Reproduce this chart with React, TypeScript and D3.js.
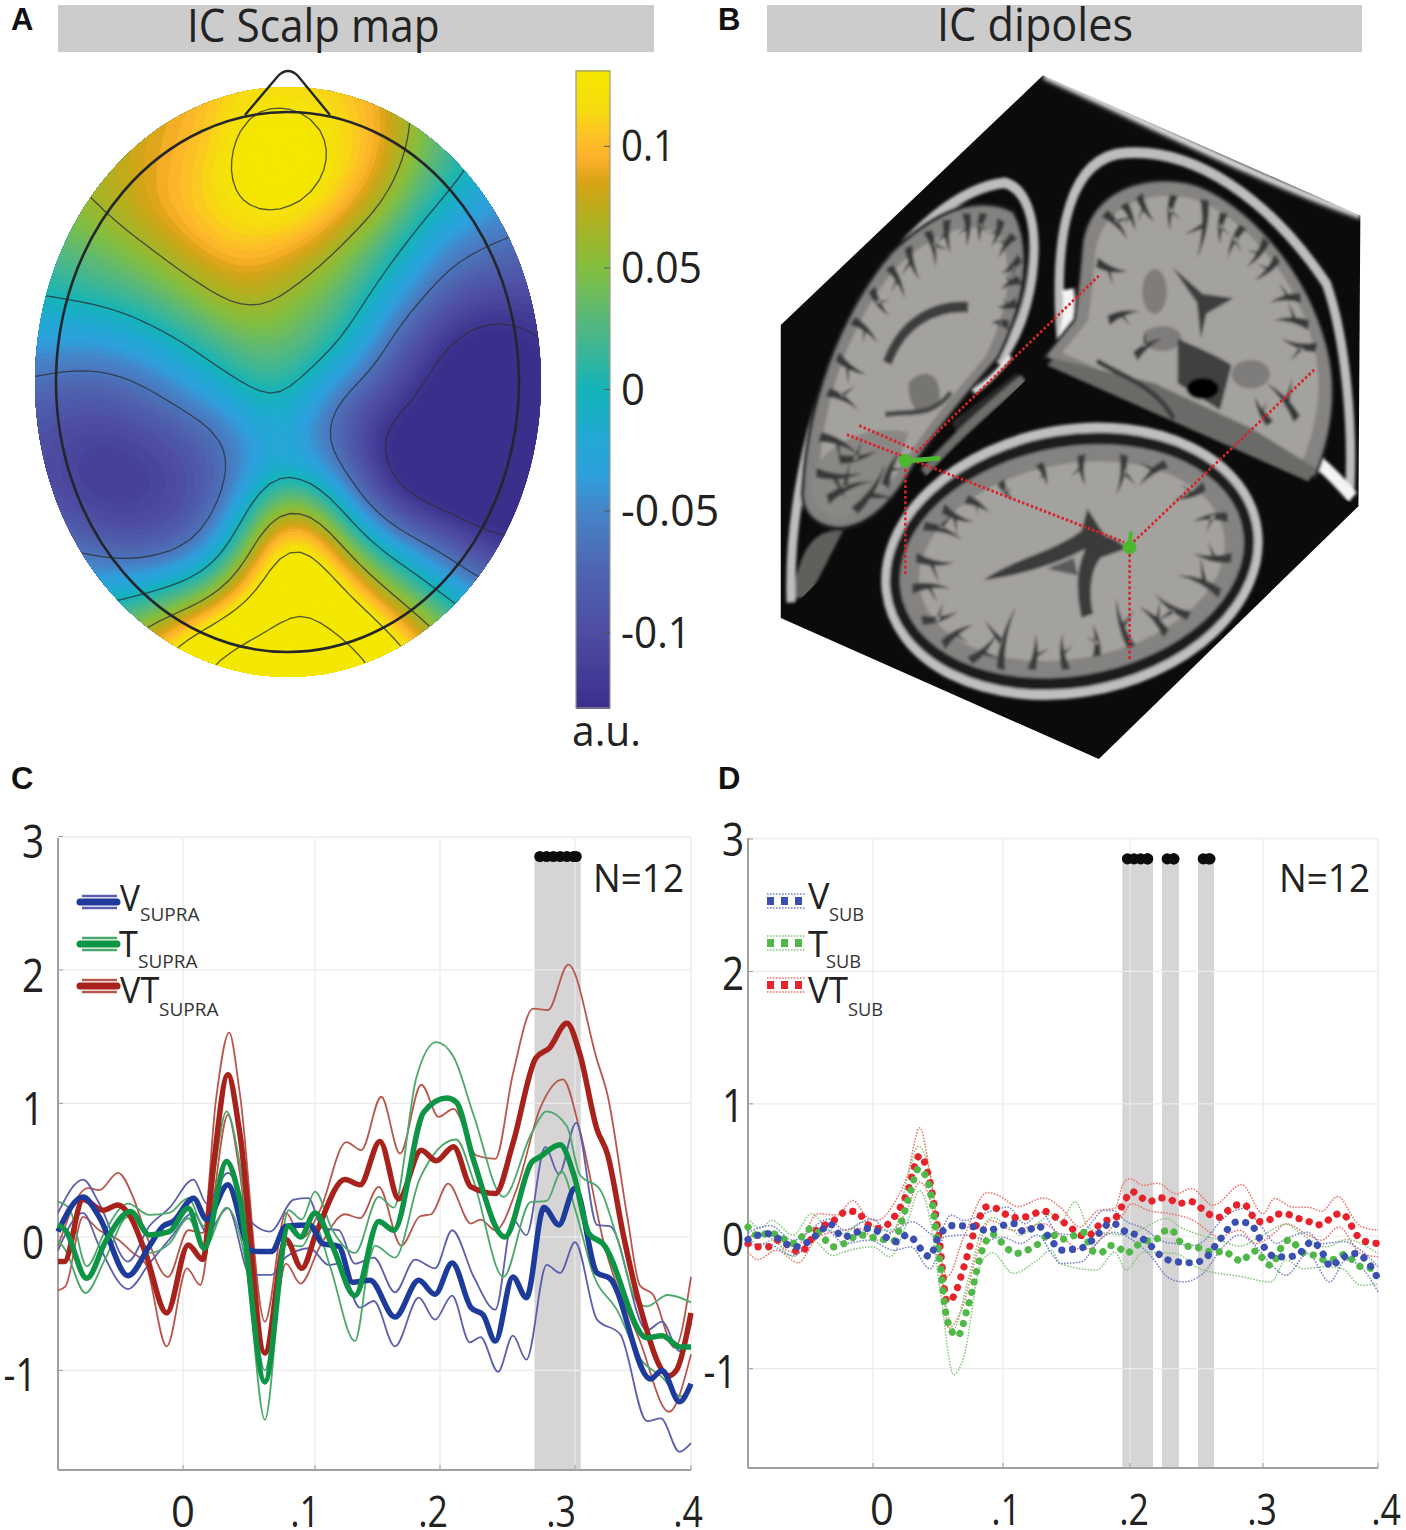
import * as d3 from 'd3';

type Pt = number[];

// --- panel A: scalp map values, in hundredths of a.u. on a regular grid
const scalpRows = [
  [7, 7, 7, 7.5, 8, 8.5, 10, 11, 11.3, 11.3, 11, 10.5, 9, 6, 4, 3, 2, 1, 0],
  [7, 7, 7, 7.5, 8, 8.5, 10, 11.5, 11.8, 11.8, 11.5, 11, 9, 6, 4, 2, 1, 0, -1],
  [7, 7, 7.5, 8, 8.5, 9, 10, 12, 14, 14.3, 12.6, 11.5, 10, 6.5, 3, 0.8, -1, -2, -3],
  [6, 6, 6.5, 7, 8, 9.5, 10.5, 12.8, 15, 15.5, 13.2, 11.5, 9.5, 5, 2.5, 0.3, -2, -3, -4],
  [5, 5.5, 6.5, 7.5, 8.5, 10, 11, 12.2, 14, 14.2, 12.8, 10.5, 8, 4, 0.5, -1.5, -3, -4, -5],
  [4, 4.5, 5, 6.25, 7.8, 9.5, 11, 12, 12.2, 12.2, 11, 8, 5.5, 1, -1.5, -3.5, -5, -6, -6],
  [2, 2, 3, 4.3, 5.4, 7, 9.5, 10.5, 10.5, 9.5, 7.5, 5, 1.5, -0.7, -4.8, -6, -7, -7.5, -7.5],
  [1, 1.2, 2, 2.5, 3.7, 5, 6.4, 8.2, 8.2, 6.8, 5.1, 3, 0.3, -3, -6.8, -8.5, -9, -9.5, -9.5],
  [-1, -0.8, -0.6, -0.3, 0.7, 2.6, 4.2, 6.6, 6.5, 5, 3.5, 1.7, -2.2, -6.4, -9, -11.5, -12, -11.5, -11],
  [-3.5, -3.5, -3.5, -3, -1.8, -0.5, 1, 3, 4, 3.8, 1.7, 0, -5.3, -9, -12.3, -14, -14.5, -13, -12],
  [-5.5, -6, -6.6, -6.6, -5.7, -3.6, -1.2, 1, 2.5, 2.5, -0.5, -3, -7.5, -11, -14, -15, -15, -14.5, -12],
  [-7.5, -8.5, -9, -8.5, -7.5, -6, -4.5, -2.5, -0.3, -0.1, -4.5, -8, -11, -12, -14.5, -15.5, -15.5, -14.5, -12],
  [-9, -10, -11, -11, -10.5, -9, -7.5, -6, -1.5, -1.5, -5.7, -10, -13, -14.5, -15.5, -16, -16, -15, -12.5],
  [-9, -10.5, -11.5, -11.8, -11.5, -10.5, -9, -7, -3, -3, -4.5, -8, -13.5, -15, -15.5, -16, -16, -15, -13],
  [-9, -10, -11.5, -12, -11.8, -11, -9.5, -7, 0.5, 3, 0.5, -5.5, -12, -14.5, -15, -15.5, -15.5, -14.5, -13],
  [-8, -9, -10, -11, -11, -10, -8.8, -4.5, 5, 11, 7.5, -0.5, -6.5, -10, -12, -14, -14.5, -14, -12],
  [-4, -5, -6.8, -8, -8.8, -8, -6, 0, 9.5, 16, 12, 5.7, 0, -3.5, -6.5, -9.5, -12, -12.5, -11],
  [-3, -3, -3, -3, -3, -1.7, 0.4, 5.5, 12.8, 18, 15.5, 10.7, 5.5, 1.5, -1.5, -5.8, -8, -9, -9],
  [-1, -0.5, 0, 0.5, 2.5, 5, 7.3, 12.3, 15.5, 19, 19, 14.5, 11, 6.2, 2.5, -1, -3, -4, -4],
  [2, 3, 4, 6, 7, 12.5, 15, 18, 20, 21, 21, 19, 15, 11, 7, 4, 2, 1, 1],
  [4, 5, 7, 9, 11, 14, 18, 22, 23, 24, 24, 22, 18, 14, 10, 7, 5, 4, 3],
  [6, 7, 9, 11, 13, 16, 20, 24, 25, 26, 26, 24, 20, 16, 12, 9, 7, 6, 5],
];
const scalpLevels = [-12.5, -6.25, 0, 6.25, 12.5, 18.75];
const colorbarTicks = [0.1, 0.05, 0, -0.05, -0.1];
const colorbarLabels = ['0.1', '0.05', '0', '-0.05', '-0.1'];
const colorStops = [-0.131, -0.1, -0.075, -0.05, -0.035, -0.02, 0, 0.015, 0.03, 0.05, 0.07, 0.085, 0.095, 0.105, 0.115, 0.131];
const colorValues = ['#3b2f8c', '#4e4da2', '#4f65b0', '#4684c8', '#2ea0dc', '#23a8d4', '#14b4b8', '#3ab59a', '#5ab878', '#84bf3f', '#b0b020', '#d7a316', '#fcb12c', '#fdc325', '#f6dc10', '#f4e800'];

// --- panel C: suprathreshold, [time, value] read at the turning points
const vSupraMean: Pt[] = [[-.1,.04],[-.08,.3],[-.067,.15],[-.044,-.29],[-.027,-.07],[-.016,.08],[-.008,.115],[.008,.29],[.018,.13],[.034,.39],[.051,-.1],[.058,-.11],[.067,-.11],[.078,.08],[.096,.09],[.106,-.05],[.119,-.07],[.13,-.34],[.144,-.325],[.164,-.6],[.183,-.325],[.196,-.43],[.209,-.195],[.223,-.53],[.232,-.585],[.241,-.78],[.254,-.3],[.264,-.455],[.277,.22],[.288,.09],[.3,.365],[.319,-.27],[.33,-.31],[.365,-1.065],[.375,-1],[.39,-1.235],[.4,-1.1]];
const vSupraUpper: Pt[] = [[-.1,.18],[-.08,.43],[-.067,.25],[-.044,-.185],[-.027,.08],[-.011,.215],[.008,.43],[.018,.25],[.034,.48],[.053,.1],[.066,.04],[.084,.28],[.095,.29],[.106,.065],[.119,.05],[.132,-.2],[.147,-.155],[.164,-.415],[.18,-.17],[.196,-.235],[.209,.05],[.225,-.3],[.241,-.545],[.254,.13],[.264,.013],[.278,.675],[.288,.47],[.301,.855],[.319,.09],[.33,.08],[.362,-.7],[.375,-.635],[.39,-.855],[.4,-.65]];
const vSupraLower: Pt[] = [[-.1,-.1],[-.08,.18],[-.067,-.07],[-.044,-.39],[-.027,-.2],[-.011,-.02],[.008,.18],[.018,.03],[.034,.215],[.051,-.285],[.067,-.285],[.078,-.15],[.096,-.085],[.111,-.21],[.119,-.2],[.136,-.53],[.147,-.48],[.164,-.82],[.183,-.455],[.196,-.62],[.209,-.44],[.222,-.79],[.23,-.75],[.243,-1.01],[.254,-.74],[.264,-.92],[.279,-.21],[.289,-.27],[.3,-.04],[.319,-.62],[.339,-.73],[.362,-1.38],[.374,-1.36],[.39,-1.61],[.4,-1.545]];
const tSupraMean: Pt[] = [[-.1,.09],[-.094,.05],[-.077,-.31],[-.062,-.035],[-.042,.19],[-.027,.015],[-.011,.04],[.004,.215],[.016,-.085],[.033,.565],[.043,.28],[.062,-1.085],[.08,.08],[.089,0],[.1,.18],[.114,-.07],[.132,-.44],[.151,.115],[.163,.05],[.187,.935],[.205,1.04],[.212,1.01],[.225,.57],[.248,0],[.268,.56],[.274,.6],[.289,.69],[.299,.47],[.312,.025],[.324,-.05],[.362,-.755],[.375,-.74],[.391,-.825],[.4,-.825]];
const tSupraUpper: Pt[] = [[-.1,.265],[-.091,.215],[-.077,-.22],[-.062,.05],[-.044,.25],[-.027,.165],[-.011,.18],[.004,.29],[.016,.08],[.033,.94],[.043,.55],[.062,-1],[.08,.2],[.09,.13],[.1,.34],[.114,.05],[.132,-.12],[.151,.3],[.163,.22],[.181,1.19],[.197,1.46],[.21,1.35],[.225,.91],[.247,.3],[.268,.78],[.279,.94],[.294,.83],[.304,.47],[.322,.35],[.336,0],[.354,-.49],[.362,-.52],[.38,-.435],[.4,-.49]];
const tSupraLower: Pt[] = [[-.1,-.02],[-.094,-.1],[-.078,-.42],[-.062,-.16],[-.044,.15],[-.027,-.12],[-.011,-.05],[.004,.14],[.016,-.085],[.033,.22],[.048,-.22],[.062,-1.37],[.078,-.06],[.09,-.07],[.1,.08],[.112,-.22],[.132,-.78],[.144,-.155],[.148,-.065],[.164,-.155],[.184,.44],[.212,.73],[.225,.415],[.247,-.3],[.267,.26],[.279,.27],[.29,.49],[.301,.18],[.316,-.285],[.336,-.545],[.356,-.91],[.375,-1.05],[.391,-1.195],[.4,-1.12]];
const vtSupraMean: Pt[] = [[-.1,-.185],[-.095,-.185],[-.08,.28],[-.064,.2],[-.052,.24],[-.042,.15],[-.03,-.12],[-.013,-.57],[.004,-.06],[.015,-.17],[.023,.53],[.034,1.215],[.043,.78],[.062,-.87],[.078,-.02],[.09,-.235],[.101,.03],[.124,.43],[.136,.39],[.152,.715],[.167,.285],[.185,.65],[.197,.57],[.21,.675],[.223,.375],[.241,.325],[.254,.7],[.271,1.34],[.281,1.415],[.294,1.6],[.304,1.375],[.319,.805],[.328,.62],[.342,0],[.356,-.52],[.381,-1.04],[.388,-.99],[.4,-.57]];
const vtSupraUpper: Pt[] = [[-.1,-.07],[-.076,.365],[-.067,.35],[-.052,.48],[-.04,.3],[-.03,.03],[-.012,-.3],[.004,.05],[.015,.03],[.025,1.03],[.035,1.53],[.043,1.08],[.062,-.635],[.078,.18],[.09,-.01],[.104,.2],[.125,.71],[.137,.65],[.153,1.05],[.168,.625],[.185,1.14],[.199,.9],[.21,.96],[.227,.61],[.241,.585],[.254,1.22],[.269,1.71],[.28,1.7],[.295,2.04],[.319,1.325],[.328,1.065],[.345,.155],[.356,-.365],[.367,-.43],[.386,-.83],[.4,-.3]];
const vtSupraLower: Pt[] = [[-.1,-.4],[-.094,-.37],[-.08,.15],[-.067,.05],[-.052,-.02],[-.04,-.12],[-.03,-.2],[-.013,-.82],[.003,-.235],[.013,-.36],[.023,.28],[.034,.915],[.043,.48],[.062,-1.1],[.078,-.2],[.089,-.35],[.104,-.07],[.124,.17],[.136,.14],[.151,.375],[.169,-.065],[.184,.155],[.193,.17],[.206,.4],[.223,.1],[.23,.13],[.241,.05],[.257,.365],[.274,.96],[.291,1.18],[.304,.805],[.325,-.05],[.356,-.78],[.381,-1.31],[.4,-.88]];

// --- panel D: subthreshold
const vSubMean: Pt[] = [[-.1,-.025],[-.085,.02],[-.0625,-.08],[-.0425,.03],[-.035,.095],[-.024,-.005],[-.003,.06],[.018,-.04],[.026,.01],[.044,-.155],[.049,-.03],[.061,.08],[.079,.07],[.088,.04],[.099,.08],[.109,.095],[.117,.03],[.127,.08],[.14,-.055],[.145,-.105],[.161,-.09],[.178,.045],[.184,.1],[.191,.08],[.197,.03],[.205,.01],[.211,-.03],[.2175,-.09],[.224,-.155],[.231,-.185],[.246,-.2],[.255,-.18],[.265,-.06],[.281,.11],[.29,.095],[.303,-.105],[.31,-.155],[.32,-.155],[.329,-.145],[.343,-.04],[.352,-.13],[.359,-.23],[.366,-.18],[.381,-.13],[.391,-.195],[.4,-.32]];
const vSubUpper: Pt[] = [[-.1,.03],[-.082,.08],[-.064,-.03],[-.035,.13],[-.023,.045],[-.001,.13],[.013,.03],[.03,.11],[.049,0],[.06,.16],[.07,.12],[.088,.18],[.104,.22],[.117,.095],[.13,.18],[.144,.02],[.161,.01],[.171,.12],[.179,.195],[.187,.195],[.196,.12],[.21,.06],[.225,-.04],[.234,-.055],[.2475,-.07],[.255,-.04],[.27,.135],[.286,.21],[.297,.095],[.312,-.055],[.32,-.02],[.339,.03],[.351,-.055],[.37,-.04],[.385,-.105],[.4,-.23]];
const vSubLower: Pt[] = [[-.1,-.07],[-.085,-.055],[-.064,-.145],[-.037,.045],[-.023,-.055],[-.003,-.03],[.016,-.105],[.029,-.08],[.044,-.245],[.055,-.005],[.07,.01],[.088,-.03],[.099,-.005],[.114,-.055],[.127,.01],[.14,-.155],[.145,-.205],[.161,-.195],[.177,-.02],[.187,.03],[.197,0],[.214,-.13],[.23,-.32],[.24,-.345],[.255,-.28],[.27,-.08],[.2825,.01],[.2925,-.055],[.309,-.23],[.32,-.295],[.339,-.13],[.358,-.345],[.372,-.18],[.385,-.23],[.4,-.42]];
const tSubMean: Pt[] = [[-.1,.07],[-.09,-.005],[-.084,.03],[-.074,-.005],[-.064,-.055],[-.049,.06],[-.039,-.02],[-.032,-.08],[-.023,-.055],[-.011,.01],[.005,-.02],[.016,-.035],[.022,.11],[.029,.345],[.035,.51],[.042,.42],[.051,-.155],[.057,-.63],[.065,-.755],[.073,-.53],[.086,-.055],[.092,.015],[.103,-.09],[.11,-.13],[.119,-.105],[.126,-.07],[.138,.02],[.145,-.025],[.152,-.01],[.164,.03],[.167,-.045],[.17,-.11],[.177,-.125],[.184,-.07],[.191,-.085],[.197,-.13],[.204,-.08],[.211,-.035],[.219,-.03],[.224,.03],[.231,.05],[.236,-.02],[.241,-.075],[.249,-.08],[.256,-.105],[.264,-.125],[.27,-.11],[.2775,-.155],[.284,-.19],[.29,-.13],[.296,-.11],[.3,-.175],[.307,-.22],[.316,-.085],[.323,-.025],[.33,-.08],[.336,-.13],[.345,-.145],[.354,-.18],[.362,-.175],[.371,-.135],[.378,-.18],[.385,-.23],[.395,-.245],[.4,-.26]];
const tSubUpper: Pt[] = [[-.1,.135],[-.09,.06],[-.081,.12],[-.064,.01],[-.049,.17],[-.037,.06],[-.024,.02],[-.008,.11],[.008,.045],[.016,.05],[.026,.42],[.035,.68],[.044,.47],[.055,-.455],[.062,-.7],[.073,-.33],[.086,.095],[.092,.14],[.104,.07],[.114,.01],[.127,.095],[.139,.17],[.145,.11],[.157,.26],[.167,.07],[.177,.03],[.184,.02],[.197,.01],[.21,.06],[.2275,.135],[.2375,.07],[.2525,.01],[.265,-.02],[.2825,-.075],[.2975,-.005],[.32,.09],[.333,.02],[.355,-.08],[.372,-.025],[.4,-.13]];
const tSubLower: Pt[] = [[-.1,-.005],[-.09,-.07],[-.081,-.03],[-.064,-.155],[-.049,-.03],[-.032,-.145],[-.024,-.12],[0,-.08],[.013,-.155],[.026,.095],[.036,.345],[.044,.12],[.052,-.43],[.062,-1.045],[.07,-.905],[.083,-.205],[.092,-.125],[.108,-.28],[.127,-.18],[.138,-.105],[.145,-.205],[.174,-.255],[.188,-.12],[.197,-.255],[.21,-.12],[.234,-.13],[.2525,-.245],[.284,-.305],[.307,-.345],[.32,-.18],[.335,-.245],[.355,-.23],[.369,-.245],[.385,-.37],[.4,-.36]];
const vtSubMean: Pt[] = [[-.1,-.055],[-.092,-.08],[-.084,-.08],[-.076,-.03],[-.0585,-.12],[-.0425,.07],[-.035,.095],[-.02,.19],[-.012,.18],[-.005,.095],[.005,.06],[.018,.17],[.026,.32],[.036,.61],[.044,.4],[.051,-.03],[.057,-.495],[.062,-.455],[.07,-.23],[.08,.095],[.088,.225],[.095,.21],[.108,.14],[.117,.145],[.132,.19],[.145,.12],[.153,.07],[.16,.01],[.167,0],[.173,.06],[.179,.11],[.188,.135],[.196,.27],[.201,.34],[.2075,.3],[.214,.26],[.222,.29],[.23,.28],[.236,.245],[.245,.265],[.2525,.22],[.259,.17],[.266,.14],[.2725,.185],[.279,.235],[.286,.24],[.291,.17],[.296,.11],[.304,.115],[.311,.165],[.32,.17],[.328,.14],[.338,.12],[.346,.085],[.354,.1],[.361,.16],[.369,.17],[.375,.11],[.38,.03],[.385,-.025],[.395,-.05],[.4,-.055]];
const vtSubUpper: Pt[] = [[-.1,-.005],[-.088,.01],[-.064,-.12],[-.044,.17],[-.029,.16],[-.016,.27],[-.005,.145],[.003,.12],[.018,.28],[.026,.445],[.036,.82],[.044,.47],[.057,-.305],[.07,0],[.088,.33],[.096,.31],[.112,.225],[.132,.29],[.145,.22],[.161,.07],[.167,.12],[.175,.195],[.188,.21],[.195,.4],[.2,.435],[.21,.385],[.221,.4],[.235,.32],[.246,.36],[.2625,.235],[.284,.39],[.3,.17],[.31,.285],[.326,.22],[.339,.22],[.351,.19],[.365,.3],[.38,.12],[.385,.075],[.4,.045]];
const vtSubLower: Pt[] = [[-.1,-.12],[-.092,-.175],[-.077,-.105],[-.06,-.2],[-.044,-.005],[-.024,.045],[-.011,.06],[.003,-.03],[.018,.07],[.026,.195],[.036,.41],[.044,.27],[.052,-.13],[.058,-.695],[.068,-.555],[.08,-.13],[.09,.12],[.108,.045],[.132,.095],[.145,.01],[.16,-.095],[.167,-.095],[.179,0],[.195,.17],[.201,.245],[.214,.195],[.23,.17],[.2475,.12],[.26,.03],[.266,-.005],[.2825,.045],[.295,-.055],[.309,.02],[.32,.095],[.339,.01],[.351,-.03],[.366,.07],[.385,-.13],[.4,-.155]];

const yTicks = [3, 2, 1, 0, -1];
const yLabels = ['3', '2', '1', '0', '-1'];
const xTicks = [0, 0.1, 0.2, 0.3, 0.4];
const xLabels = ['0', '.1', '.2', '.3', '.4'];
const supraWindows = [[0.27, 0.305]];
const subWindows = [[0.194, 0.2173], [0.224, 0.2368], [0.2511, 0.2632]];
const sigLevel = 2.85;

const FONT = '"Open Sans", "Noto Sans", sans-serif';
const scalpColor = d3.scaleLinear<string>().domain(colorStops).range(colorValues).clamp(true);

// grid is 30px, refine it x3 and soften so the contours come out round instead of polygonal
const nCols = scalpRows[0].length;
const nRows = scalpRows.length;
const UP = 3;
const fineW = (nCols - 1) * UP + 1;
const fineH = (nRows - 1) * UP + 1;
const scalpFine = new Float64Array(fineW * fineH);
for (let j = 0; j < fineH; j++) {
  for (let i = 0; i < fineW; i++) {
    const c = Math.min(Math.floor(i / UP), nCols - 2);
    const r = Math.min(Math.floor(j / UP), nRows - 2);
    const fx = i / UP - c;
    const fy = j / UP - r;
    scalpFine[j * fineW + i] = (1 - fy) * ((1 - fx) * scalpRows[r][c] + fx * scalpRows[r][c + 1])
      + fy * ((1 - fx) * scalpRows[r + 1][c] + fx * scalpRows[r + 1][c + 1]);
  }
}
d3.blur2({ data: scalpFine, width: fineW, height: fineH }, 1.6);
const contourGen = d3.contours().size([fineW, fineH]).smooth(true);
const scalpPath = d3.geoPath().projection(d3.geoIdentity().scale(10).translate([15, 65]) as any);

function Txt({ x, y, sx = 1, size = 46, anchor = 'start', weight = 400, family = FONT, fill = '#222', children }: any) {
  return (
    <text transform={`translate(${x},${y}) scale(${sx},1)`} fontSize={size} fontFamily={family} fontWeight={weight}
      fill={fill} textAnchor={anchor}>{children}</text>
  );
}

function ScalpMap() {
  const cb = d3.scaleLinear().domain([-0.131, 0.131]).range([708, 71]);
  const barValues = d3.range(-0.131, 0.131, 0.0008);
  const fills = contourGen.thresholds(d3.range(-17, 27, 0.5))(Array.from(scalpFine));
  const lines = contourGen.thresholds(scalpLevels)(Array.from(scalpFine));
  return (
    <g>
      <clipPath id="scalpClip"><ellipse cx={288} cy={382} rx={253} ry={295} /></clipPath>
      <g clipPath="url(#scalpClip)">
        <rect x={20} y={70} width={540} height={630} fill={scalpColor(-0.131)} />
        {fills.map((c, i) => (
          <path key={i} d={scalpPath(c as any) || ''} fill={scalpColor((c.value + 0.25) / 100)} stroke={scalpColor((c.value + 0.25) / 100)} strokeWidth={0.4} />
        ))}
        {lines.map((c, i) => (
          <path key={i} d={scalpPath(c as any) || ''} fill="none" stroke="#2b3138" strokeOpacity={0.8} strokeWidth={1.3} />
        ))}
      </g>
      <ellipse cx={287.5} cy={382} rx={231.5} ry={270} fill="none" stroke="#23262b" strokeWidth={2.6} />
      <path d="M245,115 L278,76 Q288,66 298,76 L330,115" fill="none" stroke="#23262b" strokeWidth={2.4} />
      {barValues.map((v, i) => (
        <rect key={i} x={576} y={cb(v) - 2} width={34} height={3} fill={scalpColor(v)} />
      ))}
      <rect x={576} y={71} width={34} height={637} fill="none" stroke="#9a9a8c" strokeWidth={1.2} />
      {colorbarTicks.map((t, i) => (
        <g key={t}>
          <line x1={604} x2={610} y1={cb(t)} y2={cb(t)} stroke="#555" />
          <Txt x={621} y={cb(t) + 15} size={44} sx={[0.87, 0.93, 0.95, 0.97, 0.92][i]}>{colorbarLabels[i]}</Txt>
        </g>
      ))}
      <Txt x={572} y={746} size={42} sx={0.97}>a.u.</Txt>
    </g>
  );
}

// tapered, slightly bent sulcus with one side branch, in the dipole panel's own coordinates
function sulcusPath(p: string, i: number) {
  const [[x1, y1], [x2, y2]] = p.split(' ').map(s => s.split(',').map(Number));
  const dx = x2 - x1;
  const dy = y2 - y1;
  const len = Math.hypot(dx, dy);
  const nx = -dy / len;
  const ny = dx / len;
  const w = 11;
  const bend = (i % 2 ? 1 : -1) * len * 0.14;
  const mx = x1 + dx / 2 + nx * bend;
  const my = y1 + dy / 2 + ny * bend;
  const main = `M${x1 + nx * w},${y1 + ny * w} Q${mx + nx * w * 0.6},${my + ny * w * 0.6} ${x2},${y2} Q${mx - nx * w * 0.6},${my - ny * w * 0.6} ${x1 - nx * w},${y1 - ny * w}Z`;
  const bx = x1 + dx * 0.4 + nx * bend * 0.7;
  const by = y1 + dy * 0.4 + ny * bend * 0.7;
  const side = i % 3 === 0 ? -1 : 1;
  const tipx = bx + dx * 0.25 + nx * side * len * 0.4;
  const tipy = by + dy * 0.25 + ny * side * len * 0.4;
  const branch = `M${bx - dx * 0.06},${by - dy * 0.06} L${tipx},${tipy} L${bx + dx * 0.06},${by + dy * 0.06}Z`;
  return main + branch;
}

const sagittalSulci = ['150,720 230,760', '175,640 250,680', '215,560 280,610', '265,490 310,550', '310,440 350,510', '360,395 390,470', '410,360 430,440', '460,335 470,410', '510,320 510,395', '555,320 545,385', '600,335 575,395', '635,370 595,420', '650,420 600,455', '650,470 600,490', '640,520 590,530', '620,570 575,565', '130,820 230,860', '120,900 240,900', '150,960 270,920', '220,985 300,880', '300,930 340,850', '180,870 280,850'];
const coronalSulci = ['870,320 930,380', '960,280 1000,340', '1130,290 1110,420', '1230,350 1190,420', '1320,420 1260,470', '1380,510 1300,520', '1420,620 1330,600', '850,430 930,450', '880,560 960,540', '1050,280 1040,360', '1290,380 1240,440', '1400,570 1310,560', '950,640 1020,600', '1370,780 1290,700', '1300,790 1260,730', '1180,320 1170,390', '920,300 950,360'];
const axialSulci = ['400,1020 500,1050', '380,1090 480,1100', '370,1160 470,1160', '395,1230 490,1210', '450,1285 530,1240', '520,1320 590,1260', '600,1340 640,1200', '680,1340 690,1260', '770,1340 760,1260', '850,1310 840,1240', '940,1290 900,1180', '1030,1260 960,1200', '1090,1220 1000,1170', '1170,1170 1060,1130', '1200,1090 1100,1080', '1190,1000 1100,1010', '1130,930 1050,960', '1030,880 960,930', '920,860 900,950', '810,860 820,930', '700,880 720,930', '600,920 630,960', '510,960 570,990', '450,980 530,1010'];
const redGuides = ['855,460 380,855', '232,795 380,850', '200,815 920,1055', '1415,670 945,1055', '352,880 352,1130', '935,1070 935,1320'];
const SAG = 'M90,930 C100,760 180,550 320,410 C430,320 540,280 630,320 C680,400 660,520 590,640 C520,710 450,780 370,880 C320,960 260,1010 190,1020 C120,1020 80,985 90,930Z';
const COR = 'M815,400 C825,285 950,235 1080,255 C1200,275 1385,420 1445,620 C1475,720 1455,820 1415,905 L720,640 L795,560 C805,500 810,450 815,400Z';

function Dipoles() {
  return (
    <g transform="translate(770,70) scale(0.3846,0.4474)">
      <defs>
        <clipPath id="leftFace"><polygon points="28,570 710,12 705,660 28,1225" /></clipPath>
        <clipPath id="rightFace"><polygon points="710,12 1535,325 1530,975 705,660" /></clipPath>
        <clipPath id="bottomFace"><polygon points="28,1225 705,660 1530,975 855,1540" /></clipPath>
        <filter id="soft"><feGaussianBlur stdDeviation="4" /></filter>
        <filter id="softer"><feGaussianBlur stdDeviation="6" /></filter>
      </defs>
      <polygon points="28,570 710,12 1535,325 1530,975 855,1540 28,1225" fill="#0b0b0b" />
      <g clipPath="url(#leftFace)">
        <g filter="url(#soft)">
          <path d="M60,1180 C70,1100 100,1020 190,1030 L100,1180Z" fill="#5f5e5c" />
          <path d="M55,1190 C47,1000 107,720 237,517 C357,357 497,262 610,252 C668,265 693,340 685,430 C678,520 643,600 593,655" fill="none" stroke="#bdbdbd" strokeWidth={24} />
          <path d={SAG} fill="#1c1c1c" stroke="#1c1c1c" strokeWidth={18} />
          <path d={SAG} fill="#848280" />
          <path d={SAG} fill="#a4a29f" transform="translate(370,650) scale(0.86) translate(-370,-650)" />
          <path d="M110,900 C150,830 260,790 360,810 C330,900 270,980 190,1000 C130,1000 95,960 110,900Z" fill="#8a8885" />
          <path d="M360,700 C400,660 450,680 440,740 C400,780 360,770 360,700Z" fill="#777572" />
          {sagittalSulci.map((p, i) => <path key={p} d={sulcusPath(p, i)} fill="#383838" />)}
          <path d="M305,655 C340,570 420,525 515,530" fill="none" stroke="#3c3c3c" strokeWidth={24} />
          <path d="M300,770 C360,760 420,780 470,720" fill="none" stroke="#444" strokeWidth={12} />
          <path d="M530,720 C560,700 590,680 625,640" fill="none" stroke="#e6e6e6" strokeWidth={12} />
          <path d="M480,800 C530,770 590,730 650,690" fill="none" stroke="#2a2a2a" strokeWidth={30} />
          <path d="M400,900 C470,830 560,760 660,690" fill="none" stroke="#6e6d6b" strokeWidth={22} />
        </g>
      </g>
      <g clipPath="url(#rightFace)">
        <g filter="url(#soft)">
          <path d="M760,630 C735,400 765,215 900,188 C1100,163 1305,295 1447,478 C1497,600 1517,800 1507,950" fill="none" stroke="#bdbdbd" strokeWidth={24} />
          <path d="M735,655 C760,620 785,560 775,490" fill="none" stroke="#f4f4f4" strokeWidth={30} />
          <path d="M1430,880 C1465,905 1490,930 1515,955" fill="none" stroke="#f4f4f4" strokeWidth={30} />
          <path d={COR} fill="#1c1c1c" stroke="#1c1c1c" strokeWidth={16} />
          <path d={COR} fill="#868482" />
          <path d={COR} fill="#a4a29f" transform="translate(1120,560) scale(0.9) translate(-1120,-560)" />
          <path d="M740,645 L1000,700 L1250,800 L1420,890 L1400,920 L720,660Z" fill="#6b6a68" />
          <ellipse cx={1000} cy={495} rx={32} ry={50} fill="#7f7d7b" />
          <ellipse cx={1020} cy={600} rx={50} ry={28} fill="#7f7d7b" />
          <ellipse cx={1250} cy={680} rx={50} ry={32} fill="#7f7d7b" />
          {coronalSulci.map((p, i) => <path key={p} d={sulcusPath(p, i)} fill="#383838" />)}
          <path d="M1045,440 L1125,500 L1205,510 L1135,545 L1120,600 L1110,520Z" fill="#3c3c3c" />
          <path d="M1060,600 C1110,620 1170,640 1200,660 L1170,760 L1060,700Z" fill="#3f3f3f" />
          <ellipse cx={1125} cy={712} rx={42} ry={24} fill="#060606" />
          <path d="M850,650 C900,680 1000,700 1050,780" fill="none" stroke="#3a3a3a" strokeWidth={12} />
        </g>
      </g>
      <g clipPath="url(#bottomFace)">
        <g filter="url(#soft)">
          <ellipse cx={785} cy={1098} rx={488} ry={294} transform="rotate(-8 785 1098)" fill="#1c1c1c" stroke="#bfbfbf" strokeWidth={22} />
          <ellipse cx={785} cy={1098} rx={450} ry={256} transform="rotate(-8 785 1098)" fill="#858381" />
          <ellipse cx={785} cy={1098} rx={400} ry={218} transform="rotate(-8 785 1098)" fill="#a4a29f" />
          {axialSulci.map((p, i) => <path key={p} d={sulcusPath(p, i)} fill="#3a3a3a" />)}
          <path d="M555,1140 C640,1090 730,1080 810,1030 L825,980 L870,1040 C900,1050 920,1060 925,1070 L860,1090 C830,1120 830,1180 840,1215 L810,1225 C800,1180 790,1130 820,1070 C760,1100 650,1130 555,1140Z" fill="#3a3a3a" />
          <path d="M720,1115 L790,1090 L800,1130Z" fill="#5a5a5a" />
        </g>
      </g>
      <path d="M712,12 C1000,125 1300,255 1535,325" fill="none" stroke="#ffffff" strokeWidth={14} filter="url(#softer)" />
      {redGuides.map(p => <polyline key={p} points={p} stroke="#d8232a" strokeWidth={6.5} strokeDasharray="6.5 5.5" fill="none" />)}
      <path d="M352,874 L438,868" stroke="#4cb82e" strokeWidth={11} strokeLinecap="round" />
      <ellipse cx={352} cy={873} rx={17} ry={15} fill="#4cb82e" />
      <path d="M936,1065 L938,1036" stroke="#4cb82e" strokeWidth={11} strokeLinecap="round" />
      <ellipse cx={935} cy={1067} rx={18} ry={15} fill="#4cb82e" />
    </g>
  );
}

function ErpPanel({ id, xRange, yRange, top, bottom, series, windows, labelXs, labelYs, labelY, tickX, dotted, nX }: any) {
  const x = d3.scaleLinear().domain([-0.1, 0, 0.1, 0.2, 0.3, 0.4]).range(xRange);
  const y = d3.scaleLinear().domain([-1.75, 3]).range(yRange);
  const line = d3.line<Pt>().x(d => x(d[0])).y(d => y(d[1])).curve(d3.curveMonotoneX);
  const left = xRange[0];
  const right = xRange[5];
  return (
    <g>
      <filter id={id}><feGaussianBlur stdDeviation="0.45" /></filter>
      {windows.map((w: number[], i: number) => (
        <rect key={i} x={x(w[0])} y={top + 17} width={x(w[1]) - x(w[0])} height={bottom - top - 17} fill="#d6d4d4" />
      ))}
      {xTicks.map(t => <line key={t} x1={x(t)} x2={x(t)} y1={top} y2={bottom} stroke="#e9e9e9" strokeWidth={1.2} />)}
      {yTicks.map(t => <line key={t} x1={left} x2={right} y1={y(t)} y2={y(t)} stroke="#ececec" strokeWidth={1.2} />)}
      <line x1={left} x2={right} y1={top} y2={top} stroke="#efefef" />
      <line x1={right} x2={right} y1={top} y2={bottom} stroke="#efefef" />
      {yTicks.map(t => <line key={t} x1={left} x2={left + 5} y1={y(t)} y2={y(t)} stroke="#999" />)}
      {xTicks.map(t => <line key={t} x1={x(t)} x2={x(t)} y1={bottom - 5} y2={bottom} stroke="#999" />)}
      <line x1={left} x2={left} y1={top} y2={bottom} stroke="#a0a0a0" strokeWidth={2} />
      <line x1={left} x2={right} y1={bottom} y2={bottom} stroke="#a0a0a0" strokeWidth={2} />
      <g filter={`url(#${id})`}>
        {series.map((s: any) => [s.upper, s.lower].map((d: Pt[], i: number) => (
          <path key={s.name + i} d={line(d) || ''} fill="none" stroke={s.thin} strokeWidth={dotted ? 1.5 : 1.8}
            strokeDasharray={dotted ? '1.6 1.4' : undefined} />
        )))}
        {series.map((s: any) => (
          <path key={s.name} d={line(s.mean) || ''} fill="none" stroke={s.color} strokeWidth={dotted ? 7.2 : 5.5}
            strokeDasharray={dotted ? '0.1 10.6' : undefined} strokeLinecap={dotted ? 'round' : 'butt'} strokeLinejoin="round" />
        ))}
      </g>
      {windows.map((w: number[], i: number) => (
        d3.range(w[0] + 0.004, w[1] - 0.003, 0.005).concat(w[1] - 0.004).map(t => (
          <circle key={i + '-' + t} cx={x(t)} cy={y(sigLevel)} r={5.6} fill="#0c0c0c" />
        ))
      ))}
      {yLabels.map((l, i) => <Txt key={l} x={labelXs[i]} y={labelYs[i]} size={45} anchor="middle" sx={l === '-1' ? 0.82 : 0.86}>{l}</Txt>)}
      {xLabels.map((l, i) => <Txt key={l} x={tickX[i]} y={labelY} size={44} anchor="middle" sx={i === 0 ? 0.95 : 0.81}>{l}</Txt>)}
      <Txt x={nX} y={top + 54} size={38} sx={0.97}>N=12</Txt>
    </g>
  );
}

function Legend({ items, dotted }: any) {
  return (
    <g>
      {items.map((it: any) => (
        <g key={it.y}>
          {dotted ? (
            <g>
              <line x1={767} x2={805} y1={it.y - 7} y2={it.y - 7} stroke={it.thin} strokeWidth={1.7} strokeDasharray="1.6 1.4" />
              <line x1={767} x2={805} y1={it.y + 7} y2={it.y + 7} stroke={it.thin} strokeWidth={1.7} strokeDasharray="1.6 1.4" />
              <line x1={767} x2={805} y1={it.y} y2={it.y} stroke={it.color} strokeWidth={8} strokeDasharray="7 7" />
            </g>
          ) : (
            <g>
              <line x1={82} x2={117} y1={it.y - 5} y2={it.y - 5} stroke={it.thin} strokeWidth={2.4} />
              <line x1={82} x2={117} y1={it.y + 7} y2={it.y + 7} stroke={it.thin} strokeWidth={2.4} />
              <line x1={80} x2={117} y1={it.y + 1} y2={it.y + 1} stroke={it.color} strokeWidth={7} strokeLinecap="round" />
            </g>
          )}
          <Txt x={it.tx} y={it.ty} size={36} sx={it.ts}>{it.big}</Txt>
          <Txt x={it.sx} y={it.sy} size={19} sx={it.ss} fill="#333">{it.small}</Txt>
        </g>
      ))}
    </g>
  );
}

const supraSeries = [
  { name: 'VT', mean: vtSupraMean, upper: vtSupraUpper, lower: vtSupraLower, color: '#a8211c', thin: '#b8574c' },
  { name: 'V', mean: vSupraMean, upper: vSupraUpper, lower: vSupraLower, color: '#1f3a9a', thin: '#5b5fae' },
  { name: 'T', mean: tSupraMean, upper: tSupraUpper, lower: tSupraLower, color: '#0d9445', thin: '#4da86c' },
];
const subSeries = [
  { name: 'VT', mean: vtSubMean, upper: vtSubUpper, lower: vtSubLower, color: '#e8232a', thin: '#e9746a' },
  { name: 'T', mean: tSubMean, upper: tSubUpper, lower: tSubLower, color: '#4fb848', thin: '#86c87c' },
  { name: 'V', mean: vSubMean, upper: vSubUpper, lower: vSubLower, color: '#3a50b0', thin: '#7682c4' },
];

export default function App() {
  return (
    <svg width={1406} height={1530} style={{ position: 'absolute', left: 0, top: 0, background: '#fff' }}>
      <rect x={58} y={5} width={596} height={47} fill="#cccccc" />
      <rect x={767} y={5} width={595} height={47} fill="#cccccc" />
      <Txt x={187} y={42} size={46} sx={0.92}>IC Scalp map</Txt>
      <Txt x={937} y={41} size={46} sx={0.94}>IC dipoles</Txt>
      {[['A', 11, 30], ['B', 718, 30], ['C', 11, 789], ['D', 718, 789]].map(([l, x, y]: any) => (
        <Txt key={l} x={x} y={y} size={31} weight={700} family='"Liberation Sans", Arial, sans-serif' fill="#111">{l}</Txt>
      ))}
      <ScalpMap />
      <Dipoles />
      <ErpPanel id="blurC" xRange={[58, 183, 315, 440, 575, 691]} yRange={[1470.5, 836.5]} top={838} bottom={1470}
        series={supraSeries} windows={supraWindows} labelXs={[33, 33, 33, 33, 20]} labelYs={[858, 992, 1125, 1259, 1391]}
        labelY={1527} tickX={[183, 305, 433, 561, 688]} nX={593} dotted={false} />
      <Legend items={[
        { y: 901, color: '#1f3a9a', thin: '#5b5fae', big: 'V', small: 'SUPRA', tx: 120, ty: 911, ts: 0.93, sx: 140, sy: 921, ss: 1 },
        { y: 943, color: '#0d9445', thin: '#4da86c', big: 'T', small: 'SUPRA', tx: 119, ty: 957, ts: 0.95, sx: 138, sy: 968, ss: 1 },
        { y: 985, color: '#a8211c', thin: '#b8574c', big: 'VT', small: 'SUPRA', tx: 120, ty: 1003, ts: 0.95, sx: 159, sy: 1016, ss: 1 },
      ]} dotted={false} />
      <ErpPanel id="blurD" xRange={[748, 873, 1003, 1130, 1263, 1378]} yRange={[1468, 839]} top={838} bottom={1468}
        series={subSeries} windows={subWindows} labelXs={[733, 733, 733, 733, 720]} labelYs={[856, 990, 1122, 1256, 1388]}
        labelY={1525} tickX={[882, 1006, 1134, 1262, 1386]} nX={1279} dotted={true} />
      <Legend items={[
        { y: 901, color: '#3a50b0', thin: '#7682c4', big: 'V', small: 'SUB', tx: 808, ty: 909, ts: 1, sx: 829, sy: 921, ss: 0.96 },
        { y: 943, color: '#4fb848', thin: '#86c87c', big: 'T', small: 'SUB', tx: 808, ty: 957, ts: 1, sx: 826, sy: 968, ss: 0.96 },
        { y: 985, color: '#e8232a', thin: '#e9746a', big: 'VT', small: 'SUB', tx: 808, ty: 1003, ts: 0.97, sx: 848, sy: 1016, ss: 0.96 },
      ]} dotted={true} />
    </svg>
  );
}
